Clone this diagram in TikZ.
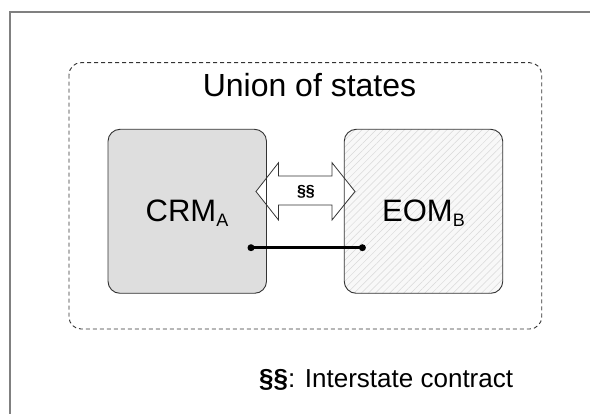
\documentclass[tikz,border=0pt]{standalone}
\usepackage{fontspec}
\setmainfont{Liberation Sans}
\usetikzlibrary{positioning,calc,patterns.meta}

\definecolor{crmfill}{RGB}{222,222,222}
\definecolor{eomfill}{RGB}{248,248,248}
\definecolor{framegray}{RGB}{128,128,128}

\tikzset{
    statebox/.style={line width=0.9pt, rounded corners=12pt, outer sep=0pt, inner sep=0pt,
        minimum width=158.5pt, minimum height=164pt},
    boxline/.style={draw=black!80, line width=0.9pt, rounded corners=12pt},
    bigtext/.style={inner sep=0pt, font=\fontsize{31}{36}\selectfont},
    link/.style={line width=2.5pt, black}
}

\begin{document}
\begin{tikzpicture}[x=1pt, y=-1pt]
    \useasboundingbox (0,0) rectangle (590,414);

    % Page frame
    \draw[framegray, line width=1.3pt] (10,414) -- (10,12) -- (590,12);

    % Union of states
    \draw[black!80, line width=0.9pt, dash pattern=on 4pt off 3pt, rounded corners=12pt]
        (69,62.7) rectangle (541.7,329);
    \node[inner sep=0pt, anchor=base, font=\fontsize{32}{38}\selectfont] (union) at (309.5,97) {Union of states};

    % Member states
    \node[statebox, fill=crmfill] (crm) at (187.25,211.3) {};
    \node[statebox, fill=eomfill] (eom) at (423.5,211.3) {};
    \fill[rounded corners=12pt, pattern={Lines[angle=45,distance=5pt,line width=0.5pt]}, pattern color=gray!30]
        (eom.south west) rectangle (eom.north east);

    % Interstate contract
    \draw[fill=white, draw=black!80, line width=0.8pt]
        (256,191.5) -- (278.5,162.7) -- (278.5,176) -- (332,176) -- (332,162.7)
        -- (355,191.5) -- (332,220) -- (332,205) -- (278.5,205) -- (278.5,220) -- cycle;
    \node[inner sep=0pt, font=\fontsize{16}{18}\selectfont\bfseries] (contract) at (306,191.5) {§§};

    % Box outlines on top
    \foreach \b in {crm,eom} {
        \draw[boxline] (\b.south west) rectangle (\b.north east);
    }

    % Labels
    \node[bigtext, anchor=base] (crmtext) at (187,221.7)
        {CRM\raisebox{-5pt}{\fontsize{18}{18}\selectfont A}};
    \node[bigtext, anchor=base] (eomtext) at (423.5,221.7)
        {EOM\raisebox{-5pt}{\fontsize{18}{18}\selectfont B}};

    % Link between states
    \coordinate (crmdot) at (251,247.7);
    \coordinate (eomdot) at (362.4,247.7);
    \draw[link] (crmdot) -- (eomdot);
    \fill (crmdot) circle (3.5pt);
    \fill (eomdot) circle (3.5pt);

    % Legend
    \node[inner sep=0pt, anchor=base west, font=\fontsize{26}{30}\selectfont] (legend) at (259,388)
        {\textbf{§§}: Interstate contract};
\end{tikzpicture}
\end{document}
